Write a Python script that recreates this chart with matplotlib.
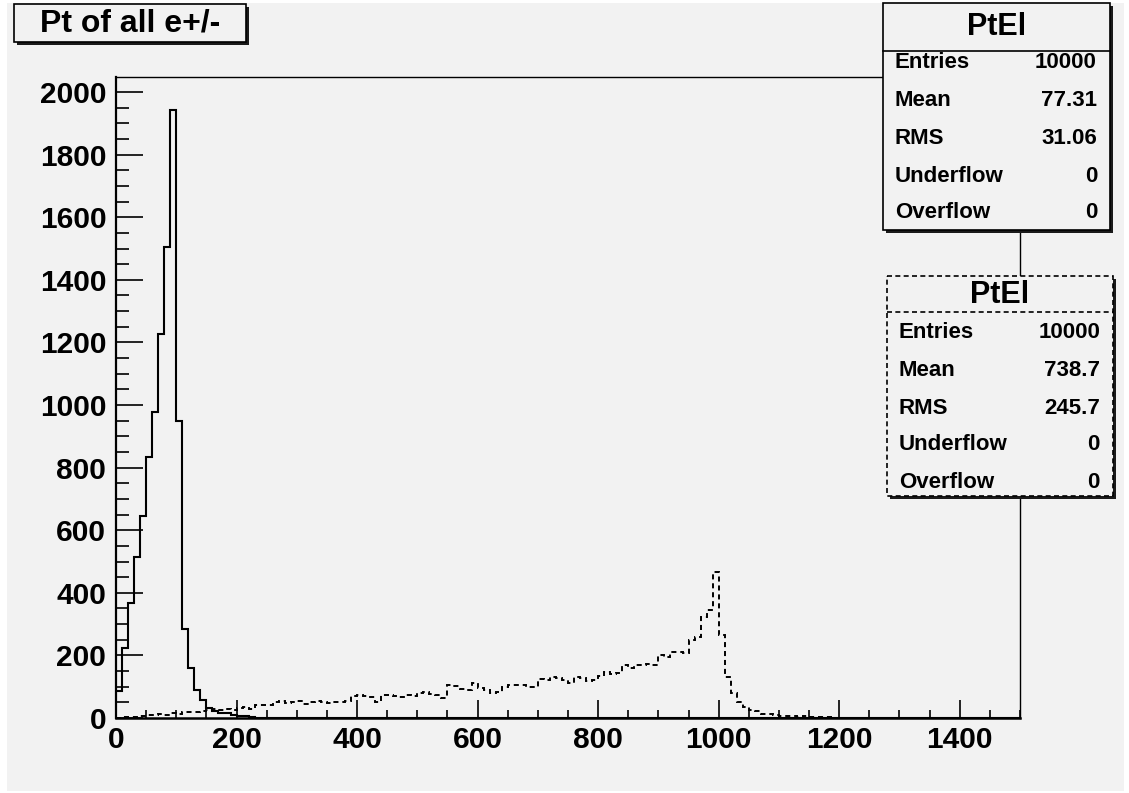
import numpy as np
import matplotlib
matplotlib.use("Agg")
import matplotlib.pyplot as plt
from matplotlib.patches import Rectangle

plt.rcParams['font.family'] = ['Liberation Sans', 'DejaVu Sans']
plt.rcParams['font.weight'] = 'bold'

# binning: 150 bins of width 10 from 0 to 1500
edges = np.arange(0, 1501, 10)

# solid histogram (bin contents)
pt_solid = [85, 225, 369, 513, 646, 834, 977, 1226, 1506, 1944,
            950, 283, 161, 88, 56, 32, 22, 16, 16, 9,
            5, 5, 2, 1, 1, 0, 0, 0, 0, 0,
            0, 0, 0, 0, 0, 0, 0, 0, 0, 0,
            0, 0, 0, 0, 0, 0, 0, 0, 0, 0,
            0, 0, 0, 0, 0, 0, 0, 0, 0, 0,
            0, 0, 0, 0, 0, 0, 0, 0, 0, 0,
            0, 0, 0, 0, 0, 0, 0, 0, 0, 0,
            0, 0, 0, 0, 0, 0, 0, 0, 0, 0,
            0, 0, 0, 0, 0, 0, 0, 0, 0, 0,
            0, 0, 0, 0, 0, 0, 0, 0, 0, 0,
            0, 0, 0, 0, 0, 0, 0, 0, 0, 0,
            0, 0, 0, 0, 0, 0, 0, 0, 0, 0,
            0, 0, 0, 0, 0, 0, 0, 0, 0, 0,
            0, 0, 0, 0, 0, 0, 0, 0, 0, 0]

# dashed histogram (bin contents)
pt_dashed = [0, 2, 3, 3, 5, 8, 10, 12, 10, 15,
             14, 20, 18, 20, 22, 25, 28, 27, 30, 26,
             32, 34, 30, 40, 42, 40, 52, 55, 48, 50,
             55, 45, 52, 54, 50, 48, 52, 50, 55, 70,
             72, 70, 66, 52, 72, 74, 70, 68, 72, 70,
             80, 82, 76, 74, 64, 105, 102, 92, 90, 112,
             95, 90, 80, 84, 100, 106, 104, 105, 100, 98,
             125, 120, 132, 128, 122, 112, 130, 128, 118, 120,
             135, 148, 140, 145, 168, 160, 168, 170, 172, 170,
             200, 195, 210, 212, 208, 250, 258, 322, 346, 467,
             265, 132, 79, 52, 36, 24, 22, 14, 12, 10,
             6, 5, 6, 4, 5, 3, 3, 2, 2, 1,
             1, 1, 0, 1, 0, 0, 1, 0, 0, 0,
             0, 0, 0, 0, 0, 0, 0, 0, 0, 0,
             0, 0, 0, 0, 0, 0, 0, 0, 0, 0]

title = 'Pt of all e+/-'
hist_name = 'PtEl'
stat_names = ['Entries', 'Mean', 'RMS', 'Underflow', 'Overflow']
stats_solid = ['10000', '77.31', '31.06', '0', '0']
stats_dashed = ['10000', '738.7', '245.7', '0', '0']

W, H = 1129, 793
bg = '#f2f2f2'

fig = plt.figure(figsize=(W / 100, H / 100), dpi=100, facecolor='white')

# canvas background
back = fig.add_axes([0, 0, 1, 1], zorder=0)
back.set_xlim(0, W)
back.set_ylim(H, 0)
back.axis('off')
back.add_patch(Rectangle((7, 3), W - 12, H - 5, facecolor=bg, edgecolor='none'))

# main plot
ax = fig.add_axes([116 / W, 1 - 718 / H, 904 / W, 641 / H], zorder=1)
ax.set_facecolor(bg)
ax.stairs(pt_solid, edges, color='black', lw=1.5, baseline=None)
ax.stairs(pt_dashed, edges, color='black', lw=1.4, ls=(0, (2.6, 2.0)), baseline=None)
ax.set_xlim(0, 1500)
ax.set_ylim(0, 2048)

ax.set_xticks(np.arange(0, 1401, 200))
ax.set_xticks(np.arange(0, 1501, 50), minor=True)
ax.set_yticks(np.arange(0, 2001, 200))
ax.set_yticks(np.arange(0, 2001, 50), minor=True)
ax.tick_params(axis='x', which='major', direction='in', length=13, width=1.2,
               labelsize=21.5, pad=6)
ax.tick_params(axis='x', which='minor', direction='in', length=6, width=1.2)
ax.tick_params(axis='y', which='major', direction='in', length=19.5, width=1.2,
               labelsize=21.5, pad=7)
ax.tick_params(axis='y', which='minor', direction='in', length=9.5, width=1.2)
for lab in ax.get_xticklabels() + ax.get_yticklabels():
    lab.set_fontweight('bold')
ax.spines['left'].set_linewidth(1.6)
ax.spines['bottom'].set_linewidth(1.8)
ax.spines['top'].set_linewidth(1.0)
ax.spines['right'].set_linewidth(1.0)

# overlay for title and stats boxes
ov = fig.add_axes([0, 0, 1, 1], zorder=2)
ov.set_xlim(0, W)
ov.set_ylim(H, 0)
ov.axis('off')
ov.patch.set_alpha(0)


def shadow_box(x0, y0, x1, y1, ls='-'):
    ov.add_patch(Rectangle((x0 + 3, y0 + 3), x1 - x0, y1 - y0,
                           facecolor='#1a1a1a', edgecolor='none'))
    ov.add_patch(Rectangle((x0, y0), x1 - x0, y1 - y0, facecolor=bg,
                           edgecolor='black', lw=1.2, ls=ls))


# title box
shadow_box(14, 4, 246, 42)
ov.text(130, 24, title, ha='center', va='center', fontsize=23, fontweight='bold')


def stats_box(x0, y0, x1, y1, sep, title_y, row_y, values, ls):
    shadow_box(x0, y0, x1, y1, ls)
    ov.plot([x0, x1], [sep, sep], color='black', lw=1.2, ls=ls)
    ov.text((x0 + x1) / 2, title_y, hist_name, ha='center', va='center',
            fontsize=22, fontweight='bold')
    for i, (n, v) in enumerate(zip(stat_names, values)):
        y = row_y[i]
        ov.text(x0 + 12, y, n, ha='left', va='center', fontsize=16, fontweight='bold')
        ov.text(x1 - 13, y, v, ha='right', va='center', fontsize=16, fontweight='bold')


stats_box(883, 3, 1110, 230, 51, 27, [63, 101, 139, 177, 213], stats_solid, '-')
stats_box(887, 276, 1113, 496, 312, 295, [333, 371, 409, 445, 482], stats_dashed,
          (0, (3, 2)))

fig.savefig('out.png', dpi=100, facecolor=fig.get_facecolor())
